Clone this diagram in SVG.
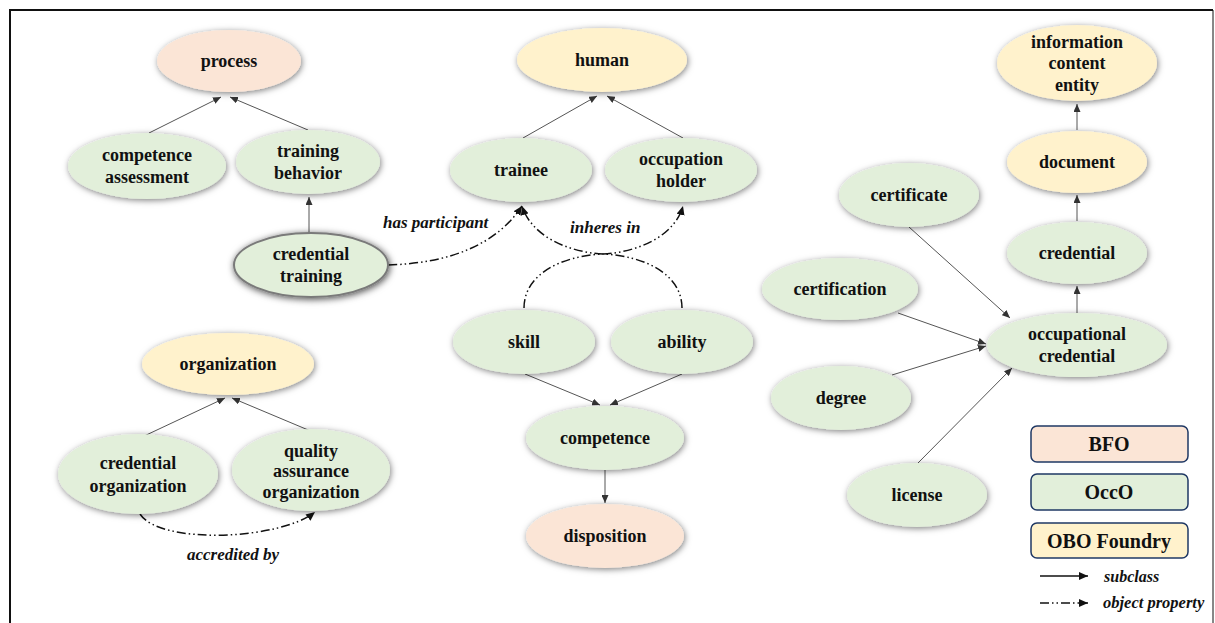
<svg xmlns="http://www.w3.org/2000/svg" width="1215" height="623" viewBox="0 0 1215 623">
<style>
.n text{font-family:"Liberation Serif","Times New Roman",serif;font-weight:bold;font-size:18px;fill:#111;text-anchor:middle}
.g{fill:#e2efda}
.p{fill:#fbe5d6}
.y{fill:#fff2cc}
.sub{fill:none;stroke:#555;stroke-width:1}
.obj{fill:none;stroke:#111;stroke-width:1.5;stroke-dasharray:9 3 1.5 3 1.5 3}
.lbl{font-family:"Liberation Serif","Times New Roman",serif;font-weight:bold;font-style:italic;font-size:17px;fill:#111}
.leg rect{stroke:#1f3864;stroke-width:1.5}
.leg text{font-family:"Liberation Serif","Times New Roman",serif;font-weight:bold;font-size:20px;fill:#111;text-anchor:middle}
</style>
<defs>
<filter id="sh" x="-20%" y="-30%" width="140%" height="160%">
<feDropShadow dx="1" dy="1.5" stdDeviation="3" flood-color="#000" flood-opacity="0.5"/>
</filter>
<filter id="sh2" x="-20%" y="-30%" width="140%" height="160%">
<feDropShadow dx="1" dy="1.5" stdDeviation="3.5" flood-color="#000" flood-opacity="0.7"/>
</filter>
<marker id="ah" markerWidth="8" markerHeight="7" refX="8" refY="3.5" orient="auto" markerUnits="userSpaceOnUse">
<path d="M0,0 L8,3.5 L0,7 Z" fill="#333"/>
</marker>
<marker id="ahb" markerWidth="9" markerHeight="8" refX="9" refY="4" orient="auto" markerUnits="userSpaceOnUse">
<path d="M0,0 L9,4 L0,8 Z" fill="#111"/>
</marker>
</defs>
<rect width="1215" height="623" fill="#fff"/>
<g id="frame" fill="none" stroke="#111">
<path d="M10,623 L10,10 L1213,10" stroke-width="2"/>
<path d="M1213,10 L1213,623" stroke-width="1"/>
</g>

<g id="connectors">
<line class="sub" x1="149" y1="133" x2="221" y2="97" marker-end="url(#ah)"/>
<line class="sub" x1="308" y1="130" x2="230" y2="97" marker-end="url(#ah)"/>
<line class="sub" x1="309" y1="233" x2="309" y2="197" marker-end="url(#ah)"/>
<line class="sub" x1="523" y1="138" x2="597" y2="96" marker-end="url(#ah)"/>
<line class="sub" x1="683" y1="138" x2="607" y2="96" marker-end="url(#ah)"/>
<line class="sub" x1="525" y1="374" x2="600" y2="405" marker-end="url(#ah)"/>
<line class="sub" x1="682" y1="374" x2="610" y2="405" marker-end="url(#ah)"/>
<line class="sub" x1="605" y1="470" x2="605" y2="503" marker-end="url(#ah)"/>
<line class="sub" x1="142" y1="437" x2="225" y2="398" marker-end="url(#ah)"/>
<line class="sub" x1="313" y1="432" x2="232" y2="398" marker-end="url(#ah)"/>
<line class="sub" x1="1077" y1="130" x2="1077" y2="104" marker-end="url(#ah)"/>
<line class="sub" x1="1077" y1="221" x2="1077" y2="195" marker-end="url(#ah)"/>
<line class="sub" x1="1077" y1="313" x2="1077" y2="286" marker-end="url(#ah)"/>
<line class="sub" x1="909" y1="227" x2="1010" y2="318" marker-end="url(#ah)"/>
<line class="sub" x1="898" y1="313" x2="986" y2="344" marker-end="url(#ah)"/>
<line class="sub" x1="892" y1="375" x2="986" y2="346" marker-end="url(#ah)"/>
<line class="sub" x1="918" y1="463" x2="1012" y2="368" marker-end="url(#ah)"/>
<path class="obj" d="M388,265 Q485,262 522,206" marker-end="url(#ahb)"/>
<path class="obj" d="M524,308 C524,275 560,256 603,254 C640,252 675,235 683,206" marker-end="url(#ahb)"/>
<path class="obj" d="M682,308 C682,275 646,256 603,254 C566,252 531,235 522,206" marker-end="url(#ahb)"/>
<path class="obj" d="M140,514 C160,545 280,540 315,512" marker-end="url(#ahb)"/>
<text class="lbl" x="383" y="228">has participant</text>
<text class="lbl" x="570" y="233">inheres in</text>
<text class="lbl" x="187" y="560">accredited by</text>
</g>

<g id="process" class="n"><ellipse class="p" cx="229" cy="61" rx="72" ry="31" filter="url(#sh)"/><text x="229" y="67">process</text></g>
<g id="competence-assessment" class="n"><ellipse class="g" cx="147" cy="166" rx="79" ry="33" filter="url(#sh)"/><text x="147" y="161">competence</text><text x="147" y="183">assessment</text></g>
<g id="training-behavior" class="n"><ellipse class="g" cx="308" cy="162" rx="72" ry="32" filter="url(#sh)"/><text x="308" y="157">training</text><text x="308" y="179">behavior</text></g>
<g id="credential-training" class="n"><ellipse class="g" cx="311" cy="265" rx="77" ry="32" stroke="#7a7a7a" stroke-width="2" filter="url(#sh2)"/><text x="311" y="260">credential</text><text x="311" y="282">training</text></g>
<g id="human" class="n"><ellipse class="y" cx="602" cy="60" rx="85" ry="32" filter="url(#sh)"/><text x="602" y="66">human</text></g>
<g id="trainee" class="n"><ellipse class="g" cx="521" cy="170" rx="71" ry="32" filter="url(#sh)"/><text x="521" y="176">trainee</text></g>
<g id="occupation-holder" class="n"><ellipse class="g" cx="681" cy="170" rx="76" ry="32" filter="url(#sh)"/><text x="681" y="165">occupation</text><text x="681" y="187">holder</text></g>
<g id="skill" class="n"><ellipse class="g" cx="524" cy="342" rx="71" ry="32" filter="url(#sh)"/><text x="524" y="348">skill</text></g>
<g id="ability" class="n"><ellipse class="g" cx="682" cy="342" rx="71" ry="32" filter="url(#sh)"/><text x="682" y="348">ability</text></g>
<g id="competence" class="n"><ellipse class="g" cx="605" cy="438" rx="79" ry="32" filter="url(#sh)"/><text x="605" y="444">competence</text></g>
<g id="disposition" class="n"><ellipse class="p" cx="605" cy="536" rx="79" ry="32" filter="url(#sh)"/><text x="605" y="542">disposition</text></g>
<g id="organization" class="n"><ellipse class="y" cx="228" cy="364" rx="86" ry="31" filter="url(#sh)"/><text x="228" y="370">organization</text></g>
<g id="credential-organization" class="n"><ellipse class="g" cx="138" cy="474" rx="80" ry="40" filter="url(#sh)"/><text x="138" y="469">credential</text><text x="138" y="492">organization</text></g>
<g id="quality-assurance-organization" class="n"><ellipse class="g" cx="311" cy="470" rx="79" ry="41" filter="url(#sh)"/><text x="311" y="457">quality</text><text x="311" y="477">assurance</text><text x="311" y="498">organization</text></g>
<g id="information-content-entity" class="n"><ellipse class="y" cx="1077" cy="63" rx="80" ry="38" filter="url(#sh)"/><text x="1077" y="48">information</text><text x="1077" y="69">content</text><text x="1077" y="91">entity</text></g>
<g id="document" class="n"><ellipse class="y" cx="1077" cy="162" rx="70" ry="31" filter="url(#sh)"/><text x="1077" y="168">document</text></g>
<g id="credential" class="n"><ellipse class="g" cx="1077" cy="253" rx="70" ry="31" filter="url(#sh)"/><text x="1077" y="259">credential</text></g>
<g id="certificate" class="n"><ellipse class="g" cx="909" cy="195" rx="70" ry="32" filter="url(#sh)"/><text x="909" y="201">certificate</text></g>
<g id="certification" class="n"><ellipse class="g" cx="840" cy="289" rx="78" ry="31" filter="url(#sh)"/><text x="840" y="295">certification</text></g>
<g id="occupational-credential" class="n"><ellipse class="g" cx="1077" cy="345" rx="90" ry="32" filter="url(#sh)"/><text x="1077" y="340">occupational</text><text x="1077" y="362">credential</text></g>
<g id="degree" class="n"><ellipse class="g" cx="841" cy="398" rx="70" ry="32" filter="url(#sh)"/><text x="841" y="404">degree</text></g>
<g id="license" class="n"><ellipse class="g" cx="917" cy="495" rx="70" ry="32" filter="url(#sh)"/><text x="917" y="501">license</text></g>

<g id="legend" class="leg">
<rect class="p" x="1031" y="426" width="157" height="36" rx="6"/><text x="1109" y="451">BFO</text>
<rect class="g" x="1031" y="474" width="157" height="36" rx="6"/><text x="1109" y="499">OccO</text>
<rect class="y" x="1031" y="523" width="157" height="35" rx="6"/><text x="1109" y="548">OBO Foundry</text>
<line x1="1040" y1="576" x2="1088" y2="576" stroke="#111" stroke-width="1.5" marker-end="url(#ahb)"/>
<line x1="1040" y1="603" x2="1088" y2="603" stroke="#111" stroke-width="1.5" stroke-dasharray="9 3 1.5 3 1.5 3" marker-end="url(#ahb)"/>
<text class="lbl" x="1104" y="582" style="font-size:16px;text-anchor:start">subclass</text>
<text class="lbl" x="1103" y="608" style="font-size:16.5px;text-anchor:start">object property</text>
</g>
</svg>
